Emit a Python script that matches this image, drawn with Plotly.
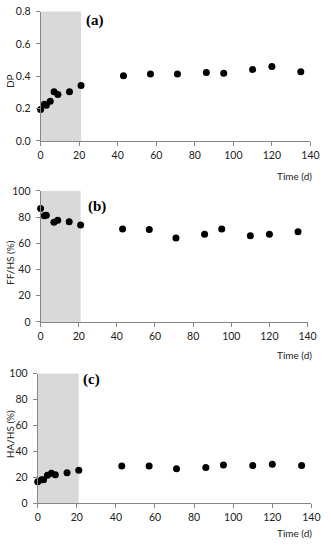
import plotly.graph_objects as go

# Data
time_a = [0, 2, 3, 5, 7, 9, 15, 21, 43, 57, 71, 86, 95, 110, 120, 135]
dp = [0.195, 0.227, 0.221, 0.245, 0.305, 0.287, 0.305, 0.343, 0.404, 0.414, 0.414, 0.424, 0.418, 0.442, 0.46, 0.428]

time_b = [0, 2, 3, 7, 9, 15, 21, 43, 57, 71, 86, 95, 110, 120, 135]
ff_hs = [86.5, 81, 81.5, 76, 77.5, 76.5, 74, 71, 70.5, 64, 67, 71, 65.75, 67, 68.75]

time_c = [0, 2, 3, 5, 7, 9, 15, 21, 43, 57, 71, 86, 95, 110, 120, 135]
ha_hs = [16.5, 18, 18, 21.5, 23, 22, 23.5, 25.5, 28.75, 28.75, 26.5, 27.5, 29.5, 29, 30, 29]

x_ticks = [0, 20, 40, 60, 80, 100, 120, 140]
shade_end = 21

W, H = 331, 550
FONT = "Lato"
AXIS_COLOR = "#868686"
TICK_FONT = dict(family=FONT, size=10.5, color="#222222")

def px_x(p):
    return p / W

def px_y(p):
    return (H - p) / H

panels = [
    dict(x=time_a, y=dp, xd=[39, 319], yd=[138, 5.7], yr=[0, 0.8], dt=0.2, fmt=".1f",
         title="DP", title_y=77, label="(a)", lab_x=95, lab_y=15, time_y=174),
    dict(x=time_b, y=ff_hs, xd=[39, 316], yd=[323, 189], yr=[0, 100], dt=20, fmt="d",
         title="FF/HS (%)", title_y=262, label="(b)", lab_x=98, lab_y=205, time_y=357),
    dict(x=time_c, y=ha_hs, xd=[36, 320], yd=[508.3, 375.7], yr=[0, 100], dt=20, fmt="d",
         title="HA/HS (%)", title_y=438, label="(c)", lab_x=92, lab_y=382, time_y=539),
]

fig = go.Figure()
layout = dict(
    width=W, height=H, margin=dict(l=0, r=0, t=0, b=0),
    paper_bgcolor="white", plot_bgcolor="white", showlegend=False,
    shapes=[], annotations=[],
)

for i, p in enumerate(panels, start=1):
    xa = "x" if i == 1 else f"x{i}"
    ya = "y" if i == 1 else f"y{i}"
    fig.add_trace(go.Scatter(
        x=p["x"], y=p["y"], mode="markers", xaxis=xa, yaxis=ya,
        marker=dict(color="black", size=7), cliponaxis=False,
    ))
    common = dict(showgrid=False, zeroline=False, showline=True, linecolor=AXIS_COLOR,
                  linewidth=1, ticks="outside", ticklen=4, tickcolor=AXIS_COLOR,
                  tickwidth=1, tickfont=TICK_FONT)
    layout[f"xaxis{'' if i == 1 else i}"] = dict(
        domain=[px_x(p["xd"][0]), px_x(p["xd"][1])], range=[0, 140],
        tickvals=x_ticks, anchor=ya, **common)
    layout[f"yaxis{'' if i == 1 else i}"] = dict(
        domain=[px_y(p["yd"][0]), px_y(p["yd"][1])], range=p["yr"],
        dtick=p["dt"], tick0=0, tickformat=p["fmt"], anchor=xa,
        ticklabelstandoff=3, **common)
    layout["shapes"].append(dict(
        type="rect", xref=xa, yref=f"{ya} domain", x0=0, x1=shade_end, y0=0, y1=1,
        fillcolor="#d9d9d9", line=dict(width=0), layer="below"))
    layout["annotations"].append(dict(
        text=p["title"], textangle=-90, xref="paper", yref="paper",
        x=px_x(8), y=px_y(p["title_y"]), showarrow=False,
        font=dict(family=FONT, size=10, color="#222222"),
        xanchor="center", yanchor="middle"))
    layout["annotations"].append(dict(
        text=f"<b>{p['label']}</b>", xref="paper", yref="paper",
        x=px_x(p["lab_x"]), y=px_y(p["lab_y"]), showarrow=False,
        font=dict(family="Liberation Serif", size=15, color="black"),
        xanchor="center", yanchor="middle"))
    layout["annotations"].append(dict(
        text="Time (d)", xref="paper", yref="paper",
        x=px_x(323), y=px_y(p["time_y"]), showarrow=False,
        font=dict(family=FONT, size=10, color="#222222"),
        xanchor="right", yanchor="middle"))

fig.update_layout(**layout)
fig.write_html(
    "out.html",
    config={"displayModeBar": False},
    post_script="document.body.style.margin='0px';document.body.style.overflow='hidden';",
)
